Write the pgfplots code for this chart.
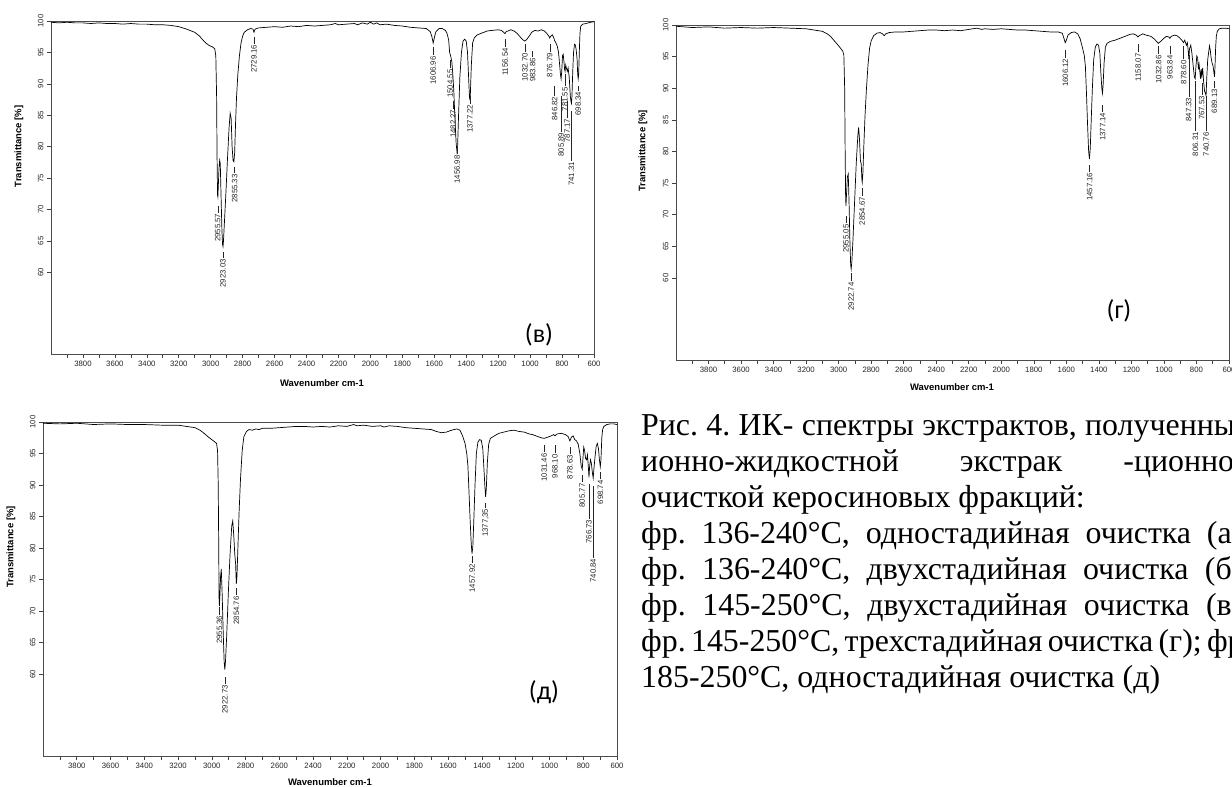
\documentclass[border=0pt]{standalone}
\usepackage{fontspec}
\setmainfont{Liberation Serif}
\newfontfamily\arialf{Liberation Sans}
\newfontfamily\calib{Carlito}
\usepackage{pgfplots}
\pgfplotsset{compat=1.18}
\frenchspacing
\newcommand\lbl{\arialf\fontsize{7.8}{8}\selectfont}
\newcommand\axlab{\arialf\bfseries\fontsize{9.5}{10}\selectfont}
\newcommand\capf{\fontsize{32}{36}\selectfont\frenchspacing}
\newcommand\pk[4]{\node[rotate=90,anchor=east,inner sep=0.3bp,font=\lbl,text=black!85] at (axis cs:#1,#2) {#3\hspace{1.2bp}\rule[0.3em]{#4bp}{0.55bp}};}
\newcommand\jl[2]{\node[anchor=base west,inner sep=0pt,font=\capf] at (641bp,#1bp) {\hbox to 610bp{#2}};}
\newcommand\nl[2]{\node[anchor=base west,inner sep=0pt,font=\capf] at (641bp,#1bp) {#2};}
\pgfplotsset{ir/.style={scale only axis, anchor=south west, xmin=600, xmax=4000, x dir=reverse, ymin=47, ymax=100,
  xtick={600,800,...,3800}, minor xtick={700,900,...,3900}, ytick={60,65,...,100},
  tick align=outside, tick pos=left, major tick length=4bp, minor tick length=4bp,
  tick style={black!75, line width=0.6bp}, axis line style={black!70, line width=0.8bp},
  tick label style={font=\arialf\fontsize{7.8}{8}\selectfont, text=black!85},
  yticklabel style={rotate=90, anchor=south},
  /pgf/number format/assume math mode=true, /pgf/number format/1000 sep={},
  clip=false}}
\pgfplotsset{spec/.style={black, line width=0.7bp, no marks}}
\begin{document}
\begin{tikzpicture}
\path[use as bounding box] (0,0) rectangle (1232bp,787bp);
\fill[white] (0,0) rectangle (1232bp,787bp);
% ---------------- (в)
\begin{axis}[ir, at={(51bp,433bp)}, width=543bp, height=333bp]
\addplot[spec] coordinates {(4000,99.8) (3950,99.7) (3900,99.8) (3850,99.7) (3800,99.7) (3750,99.6) (3700,99.7) (3650,99.6) (3600,99.6) (3550,99.5) (3500,99.6) (3450,99.5) (3400,99.5) (3350,99.4) (3300,99.4) (3250,99.3) (3200,99.1) (3150,98.7) (3100,98.2) (3070,97.6) (3050,97.0) (3030,96.5) (3010,96.1) (2990,95.9) (2975,95.6) (2968,94.5) (2963,88) (2960,78) (2957,72.3) (2955,72.0) (2952,74) (2948,76.5) (2944,77.8) (2940,77.3) (2935,72) (2930,67) (2926,64.5) (2923,64.1) (2920,65) (2915,67.5) (2905,72.5) (2895,78) (2885,83) (2878,85.3) (2872,84.5) (2866,80) (2860,77.8) (2855,77.6) (2850,79) (2844,84) (2838,88) (2830,91.5) (2820,94.5) (2810,96.5) (2800,97.6) (2790,98.2) (2770,98.6) (2750,98.8) (2735,98.7) (2729,98.2) (2722,98.7) (2700,98.9) (2650,99.0) (2600,99.1) (2550,99.0) (2500,99.2) (2450,99.1) (2400,99.3) (2350,99.2) (2300,99.3) (2250,99.4) (2220,99.6) (2200,99.4) (2150,99.5) (2100,99.6) (2080,99.4) (2050,99.7) (2020,99.5) (2000,99.8) (1980,99.5) (1960,99.7) (1940,99.4) (1900,99.5) (1850,99.3) (1800,99.2) (1750,99.0) (1700,98.9) (1650,98.8) (1625,98.3) (1615,97.5) (1607,96.5) (1600,97.3) (1590,98.3) (1570,98.8) (1550,98.8) (1530,98.5) (1520,98.0) (1510,97.0) (1504,95.0) (1498,94.5) (1490,93.5) (1484,91.5) (1478,89) (1470,84) (1463,80.5) (1458,79.2) (1454,80) (1448,85) (1440,91) (1430,95) (1420,96.8) (1410,97.1) (1400,96.8) (1392,95) (1385,91) (1380,88) (1377,87.4) (1374,88.5) (1368,93) (1360,96.5) (1350,97.3) (1330,97.8) (1300,98.1) (1270,98.4) (1240,98.5) (1200,98.6) (1180,98.5) (1165,98.2) (1157,98.0) (1150,98.3) (1120,98.6) (1100,98.4) (1080,98.0) (1060,97.4) (1045,97.0) (1033,96.8) (1020,97.1) (1000,97.8) (990,98.2) (984,98.3) (970,98.5) (950,98.4) (930,98.6) (910,98.4) (895,98.0) (880,97.5) (877,97.3) (870,97.6) (860,97.8) (850,97.2) (847,96.9) (840,96.6) (830,96.0) (822,95) (815,93) (810,91.5) (806,90.8) (802,92) (797,94.5) (793,94.7) (788,93.5) (784,92.3) (781,92.0) (777,93.0) (773,92.5) (767,92.0) (762,92.5) (755,91) (748,88) (744,87.2) (741,86.9) (738,88) (733,92) (728,95) (722,96.3) (717,96.2) (712,95.5) (706,94) (702,91.5) (699,90.8) (696,91.5) (692,95) (688,98) (683,99.2) (670,99.5) (650,99.6) (620,99.8) (600,99.9)};
\pk{2955.6}{70.7}{2955.57}{7}
\pk{2923}{63.3}{2923.03}{6}
\pk{2850}{76.8}{2855.33}{6}
\pk{2729}{97.6}{2729.16}{7}
\pk{1607}{95.9}{1606.96}{8}
\pk{1500}{93.8}{1504.55}{8}
\pk{1482}{87.4}{1482.27}{8}
\pk{1457}{80.0}{1456.98}{7}
\pk{1377}{88.2}{1377.22}{8}
\pk{1156.5}{97.2}{1156.54}{8}
\pk{1032.7}{96.4}{1032.70}{8}
\pk{983.9}{95.3}{983.86}{6}
\pk{876.8}{96.4}{876.79}{8}
\pk{846.8}{89.8}{846.82}{10}
\pk{805.9}{88.2}{805.89}{36}
\pk{781.6}{91.6}{781.55}{12}
\pk{767.2}{87.4}{787.17}{17}
\pk{741.3}{85.8}{741.31}{50}
\pk{698.3}{89.8}{698.34}{5}
\end{axis}
% ---------------- (г)
\begin{axis}[ir, at={(676bp,427bp)}, width=553bp, height=335bp]
\addplot[spec] coordinates {(4000,99.8) (3900,99.6) (3800,99.7) (3700,99.5) (3600,99.6) (3500,99.5) (3400,99.6) (3300,99.5) (3200,99.4) (3150,99.2) (3100,99.0) (3070,98.6) (3050,98.2) (3020,97.3) (3000,96.7) (2985,96.2) (2975,95.9) (2968,95.2) (2963,90) (2960,80) (2957,72.5) (2955,71.4) (2951,73.5) (2946,76) (2941,76.4) (2936,72) (2931,66) (2926,62) (2923,61.4) (2919,62.5) (2912,66) (2902,72) (2892,78) (2882,82.5) (2877,83.8) (2872,82) (2866,78.5) (2861,78) (2857,75.5) (2855,75.1) (2851,76.5) (2845,81) (2838,85.5) (2830,89.5) (2820,93.5) (2810,96.3) (2800,97.5) (2785,98.3) (2765,98.7) (2745,98.8) (2730,98.6) (2720,98.3) (2710,98.6) (2690,98.8) (2650,98.9) (2600,98.9) (2550,99.0) (2500,99.1) (2450,99.2) (2400,99.2) (2350,99.1) (2300,99.2) (2250,99.1) (2200,99.3) (2150,99.5) (2120,99.3) (2100,99.4) (2050,99.3) (2000,99.4) (1950,99.3) (1900,99.2) (1850,99.2) (1800,99.1) (1750,99.0) (1700,98.9) (1650,98.9) (1625,98.7) (1615,97.9) (1607,97.2) (1600,97.6) (1590,98.4) (1570,98.8) (1550,98.9) (1530,98.6) (1515,97.8) (1500,96.3) (1490,95.2) (1483,93.5) (1476,89) (1470,84.5) (1463,80) (1458,78.8) (1453,80.5) (1447,85) (1440,90) (1432,94.5) (1422,96.5) (1412,97.0) (1402,96.8) (1394,95.5) (1388,92.5) (1382,90) (1378,89.2) (1374,90.5) (1368,94) (1360,96.5) (1350,97.1) (1330,97.4) (1300,97.6) (1270,97.9) (1240,98.2) (1210,98.5) (1190,98.6) (1170,98.4) (1160,98.1) (1152,98.3) (1130,98.6) (1110,98.4) (1080,98.2) (1060,97.8) (1045,97.4) (1035,97.1) (1020,97.4) (1000,97.9) (985,98.2) (970,98.1) (964,97.9) (955,98.2) (935,98.4) (920,98.3) (905,98.0) (890,97.6) (880,97.2) (872,97.6) (862,96.8) (856,97.2) (851,96.0) (847,94.6) (843,96.2) (835,96.8) (828,95.5) (820,93.5) (813,91.8) (808,91.5) (803,93.5) (798,95.1) (793,94.8) (788,93.0) (784,93.8) (779,92.5) (775,91.5) (771,93.0) (767,92.0) (762,93.2) (756,91.0) (750,89.5) (745,89.2) (741,88.8) (737,91.5) (731,94.5) (725,95.7) (720,96.7) (715,96.0) (710,94.8) (704,94.0) (698,93.5) (693,92.5) (689,91.8) (686,93.5) (682,96.5) (678,98.2) (672,99.0) (660,99.4) (640,99.5) (620,99.5) (600,99.4)};
\pk{2955}{69.8}{2955.05}{7}
\pk{2922.7}{60.8}{2922.74}{8}
\pk{2854.7}{74.3}{2854.67}{8}
\pk{1606}{96.2}{1606.12}{8}
\pk{1457}{78.0}{1457.16}{7}
\pk{1377}{87.5}{1377.14}{7}
\pk{1158}{97.0}{1158.07}{8}
\pk{1032.9}{96.7}{1032.86}{8}
\pk{963.8}{96.7}{963.84}{8}
\pk{878.6}{96.7}{878.60}{13}
\pk{847.3}{95.4}{847.33}{42}
\pk{806.3}{91.2}{806.31}{50}
\pk{767.5}{90.9}{767.53}{12}
\pk{740.8}{88.8}{740.76}{35}
\pk{689.1}{91.2}{689.13}{7}
\end{axis}
% ---------------- (д)
\begin{axis}[ir, at={(43bp,31bp)}, width=574bp, height=334bp]
\addplot[spec] coordinates {(4000,99.8) (3900,99.7) (3800,99.8) (3700,99.6) (3600,99.7) (3500,99.6) (3400,99.6) (3300,99.5) (3200,99.5) (3150,99.3) (3100,99.1) (3070,98.7) (3050,98.3) (3020,97.6) (3000,97.2) (2985,96.9) (2972,96.6) (2966,95.5) (2962,90) (2959,80) (2957,72) (2955,70.8) (2952,72.5) (2948,75.5) (2944,76.7) (2939,73) (2933,67) (2927,62) (2923,60.7) (2919,62) (2912,66) (2902,73) (2892,79) (2882,83.5) (2876,84.3) (2870,82) (2864,79) (2859,77.5) (2855,74.3) (2851,75.5) (2845,80.5) (2838,86) (2830,91) (2820,95.5) (2810,97.7) (2795,98.5) (2780,98.8) (2760,98.7) (2740,98.9) (2720,98.8) (2700,99.0) (2650,99.0) (2600,99.1) (2550,99.2) (2500,99.3) (2450,99.3) (2400,99.2) (2350,99.3) (2300,99.2) (2250,99.4) (2200,99.3) (2160,99.6) (2140,99.4) (2100,99.5) (2050,99.3) (2000,99.4) (1980,99.2) (1950,99.4) (1900,99.3) (1850,99.1) (1800,99.0) (1750,98.9) (1700,98.8) (1670,98.5) (1640,98.3) (1610,98.4) (1580,98.7) (1550,98.9) (1530,98.7) (1515,97.8) (1500,96.6) (1490,95.0) (1483,93.0) (1476,88.5) (1470,84.5) (1464,81) (1459,79.1) (1454,80.2) (1448,84.5) (1441,90) (1433,95) (1424,96.8) (1414,97.2) (1404,97.1) (1395,95.8) (1389,93) (1383,90) (1378,88.1) (1374,89.5) (1368,93.5) (1360,96.5) (1350,97.4) (1320,97.9) (1300,98.2) (1270,98.4) (1240,98.6) (1210,98.7) (1180,98.5) (1150,98.4) (1120,98.1) (1100,98.0) (1070,97.7) (1050,97.5) (1031,97.4) (1010,97.6) (990,97.8) (975,98.0) (968,97.8) (955,98.1) (930,98.2) (905,98.0) (890,97.7) (879,97.0) (870,97.6) (860,97.8) (850,97.2) (840,97.0) (830,96.5) (820,95.0) (812,93.0) (806,92.5) (801,94.5) (797,96.0) (792,95.5) (786,94.2) (780,94.0) (775,94.8) (770,93.0) (766,91.2) (762,93.0) (757,94.0) (752,93.5) (746,92.0) (741,91.1) (737,92.5) (730,94.5) (723,96.2) (716,96.6) (710,95.8) (704,94.0) (699,92.9) (695,94.0) (690,97.5) (685,98.8) (678,99.3) (660,99.6) (640,99.7) (620,99.7) (600,99.6)};
\pk{2955.4}{70.8}{2955.36}{8}
\pk{2922.7}{59.6}{2922.73}{7}
\pk{2854.8}{73.7}{2854.76}{7}
\pk{1457.9}{78.8}{1457.92}{7}
\pk{1377.4}{87.3}{1377,35}{5}
\pk{1031.5}{96.4}{1031.46}{7}
\pk{968.1}{96.4}{968.10}{8}
\pk{878.6}{96.1}{878.63}{7}
\pk{805.8}{91.6}{805.77}{7}
\pk{766.7}{90.3}{766.73}{35}
\pk{740.8}{90.0}{740.84}{72}
\pk{698.7}{92.1}{698.74}{7}
\end{axis}
% ---------------- axis titles and panel letters
\node[rotate=90,font=\axlab] at (19bp,640.6bp) {Transmittance [\%]};
\node[rotate=90,font=\axlab] at (643bp,636bp) {Transmittance [\%]};
\node[rotate=90,font=\axlab] at (11bp,240bp) {Transmittance [\%]};
\node[font=\axlab] at (322bp,404bp) {Wavenumber cm-1};
\node[font=\axlab] at (952bp,400bp) {Wavenumber cm-1};
\node[font=\axlab] at (330bp,5bp) {Wavenumber cm-1};
\node[font=\calib\fontsize{26}{28}\selectfont] at (539bp,452bp) {(в)};
\node[font=\calib\fontsize{26}{28}\selectfont] at (1119bp,476bp) {(г)};
\node[font=\calib\fontsize{26}{28}\selectfont] at (544bp,95bp) {(д)};
% ---------------- caption
\jl{351}{Рис. 4. ИК- спектры экстрактов, полученных}
\jl{315}{ионно-жидкостной экстрак -ционной}
\nl{279}{очисткой керосиновых фракций:}
\jl{243}{фр. 136-240°C, одностадийная очистка (а);}
\jl{207}{фр. 136-240°C, двухстадийная очистка (б);}
\jl{171}{фр. 145-250°C, двухстадийная очистка (в);}
\jl{135}{фр. 145-250°C, трехстадийная очистка (г); фр.}
\nl{99}{185-250°C, одностадийная очистка (д)}
\end{tikzpicture}
\end{document}
